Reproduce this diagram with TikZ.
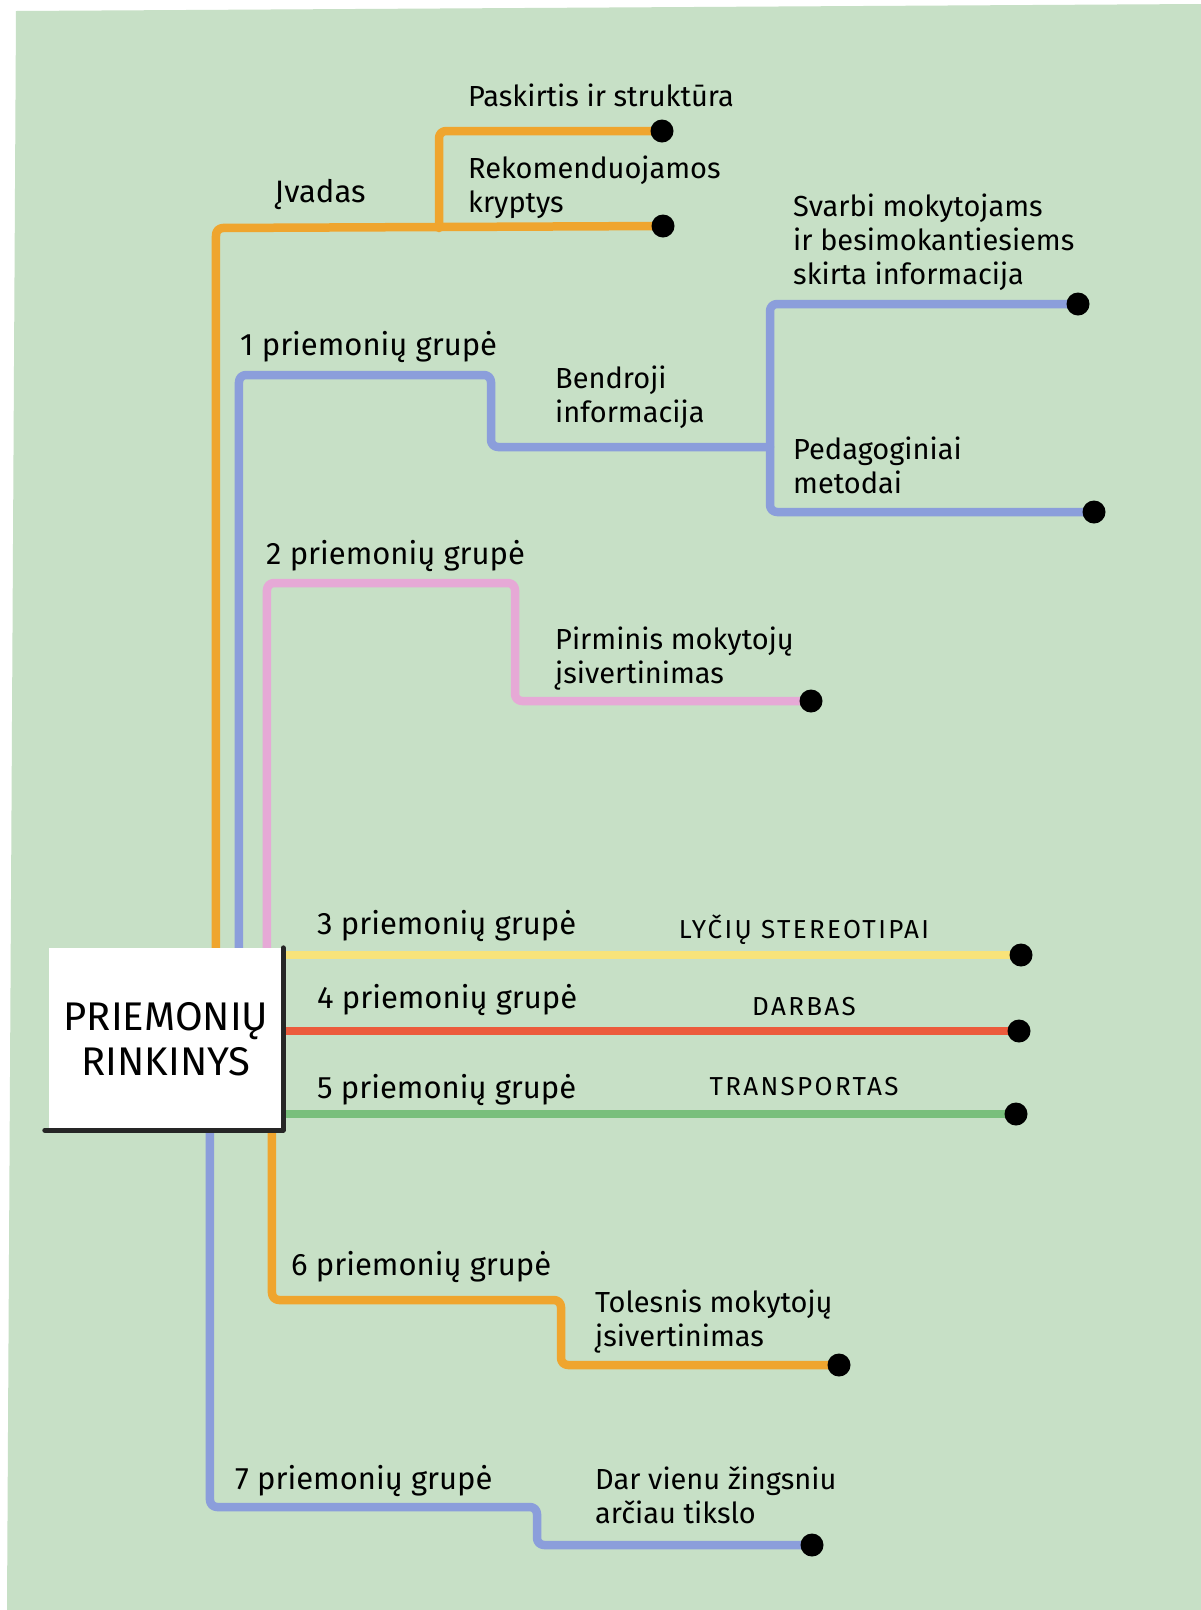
\documentclass[tikz,border=0pt]{standalone}
\usepackage{fontspec}
\setmainfont{Fira Sans}
\usetikzlibrary{calc}
\pgfdeclarelayer{bg}
\pgfdeclarelayer{lines}
\pgfsetlayers{bg,lines,main}
\definecolor{bggreen}{HTML}{C7E0C6}
\definecolor{cOr}{HTML}{EFA52E}
\definecolor{cBl}{HTML}{8B9EDB}
\definecolor{cPk}{HTML}{E6A9D6}
\definecolor{cYe}{HTML}{F8E37A}
\definecolor{cRd}{HTML}{EC5B3C}
\definecolor{cGr}{HTML}{79BF7C}
\tikzset{
  ln/.style={line width=8.5pt, rounded corners=7pt, line cap=round, line join=round},
  dotnode/.style={circle, fill=black, minimum size=23pt, inner sep=0pt},
  lbl/.style={anchor=base west, inner sep=0pt, align=left, font=\fontsize{29}{34}\selectfont},
  grp/.style={anchor=base west, inner sep=0pt, font=\fontsize{31}{34}\selectfont},
  caplbl/.style={anchor=base, inner sep=0pt, font=\fontsize{26}{30}\selectfont\addfontfeature{LetterSpace=9}},
  mainbox/.style={fill=white, minimum width=234pt, minimum height=182pt, inner sep=0pt, align=center, font=\fontsize{40}{45}\selectfont}
}
\begin{document}
\begin{tikzpicture}[x=1pt,y=-1pt]
\useasboundingbox (0,0) rectangle (1201,1610);
\begin{pgfonlayer}{bg}
\fill[white] (0,0) rectangle (1201,1610);
\fill[bggreen] (16,11) -- (1201,4) -- (1201,1610) -- (7,1610) -- cycle;
\end{pgfonlayer}

% central box
\node[mainbox] (box) at (166,1039) {PRIEMONIŲ\\RINKINYS};
\draw[line width=5pt, black!85, line cap=round, line join=round] (box.north east) -- (box.south east) -- ([xshift=-4pt]box.south west);

% end dots
\node[dotnode] (d1) at (662,131) {};
\node[dotnode] (d2) at (663,226) {};
\node[dotnode] (d3) at (1078,304) {};
\node[dotnode] (d4) at (1094,512) {};
\node[dotnode] (d5) at (811,701) {};
\node[dotnode] (d6) at (1021,955) {};
\node[dotnode] (d7) at (1019,1031) {};
\node[dotnode] (d8) at (1016,1114) {};
\node[dotnode] (d9) at (839,1365) {};
\node[dotnode] (d10) at (812,1545) {};

% junction coordinates
\coordinate (j0) at (439,228);
\coordinate (j1) at (770,447);

% connectors
\begin{pgfonlayer}{lines}
\draw[ln, cOr] ($(box.north west)+(167,20)$) -- (216,228) -- (d2.center);
\draw[ln, cOr] (j0) |- (d1.center);
\draw[ln, cBl] ($(box.north west)+(190,20)$) -- (239,375) -- (491,375) -- (491,447) -- (j1);
\draw[ln, cBl] (d3.center) -| (j1) |- (d4.center);
\draw[ln, cPk] ($(box.north west)+(218,20)$) -- (267,583) -- (515,583) -- (515,701) -- (d5.center);
\draw[ln, cYe] (box.east |- d6) -- (d6.center);
\draw[ln, cRd] (box.east |- d7) -- (d7.center);
\draw[ln, cGr] (box.east |- d8) -- (d8.center);
\draw[ln, cOr] ($(box.south west)+(223,-20)$) -- (272,1300) -- (561,1300) -- (561,1365) -- (d9.center);
\draw[ln, cBl] ($(box.south west)+(161,-20)$) -- (210,1507) -- (537,1507) -- (537,1545) -- (d10.center);
\end{pgfonlayer}

% labels (multi-line nodes: base = last line)
\node[lbl] (t1) at (468,106) {Paskirtis ir struktūra};
\node[lbl] (t2) at (468,212) {Rekomenduojamos\\kryptys};
\node[grp] (t3) at (275,202) {Įvadas};
\node[lbl] (t4) at (793,284) {Svarbi mokytojams\\ir besimokantiesiems\\skirta informacija};
\node[grp] (t5) at (240,355) {1 priemonių grupė};
\node[lbl] (t6) at (555,422) {Bendroji\\informacija};
\node[lbl] (t7) at (793,493) {Pedagoginiai\\metodai};
\node[grp] (t8) at (266,564) {2 priemonių grupė};
\node[lbl] (t9) at (555,683) {Pirminis mokytojų\\įsivertinimas};
\node[grp] (t10) at (317,934) {3 priemonių grupė};
\node[caplbl] (t11) at (804,938) {LYČIŲ STEREOTIPAI};
\node[grp] (t12) at (317,1008) {4 priemonių grupė};
\node[caplbl] (t13) at (804,1015) {DARBAS};
\node[grp] (t14) at (317,1098) {5 priemonių grupė};
\node[caplbl] (t15) at (804,1095) {TRANSPORTAS};
\node[grp] (t16) at (291,1275) {6 priemonių grupė};
\node[lbl] (t17) at (595,1346) {Tolesnis mokytojų\\įsivertinimas};
\node[grp] (t18) at (235,1489) {7 priemonių grupė};
\node[lbl] (t19) at (595,1523) {Dar vienu žingsniu\\arčiau tikslo};
\end{tikzpicture}
\end{document}
